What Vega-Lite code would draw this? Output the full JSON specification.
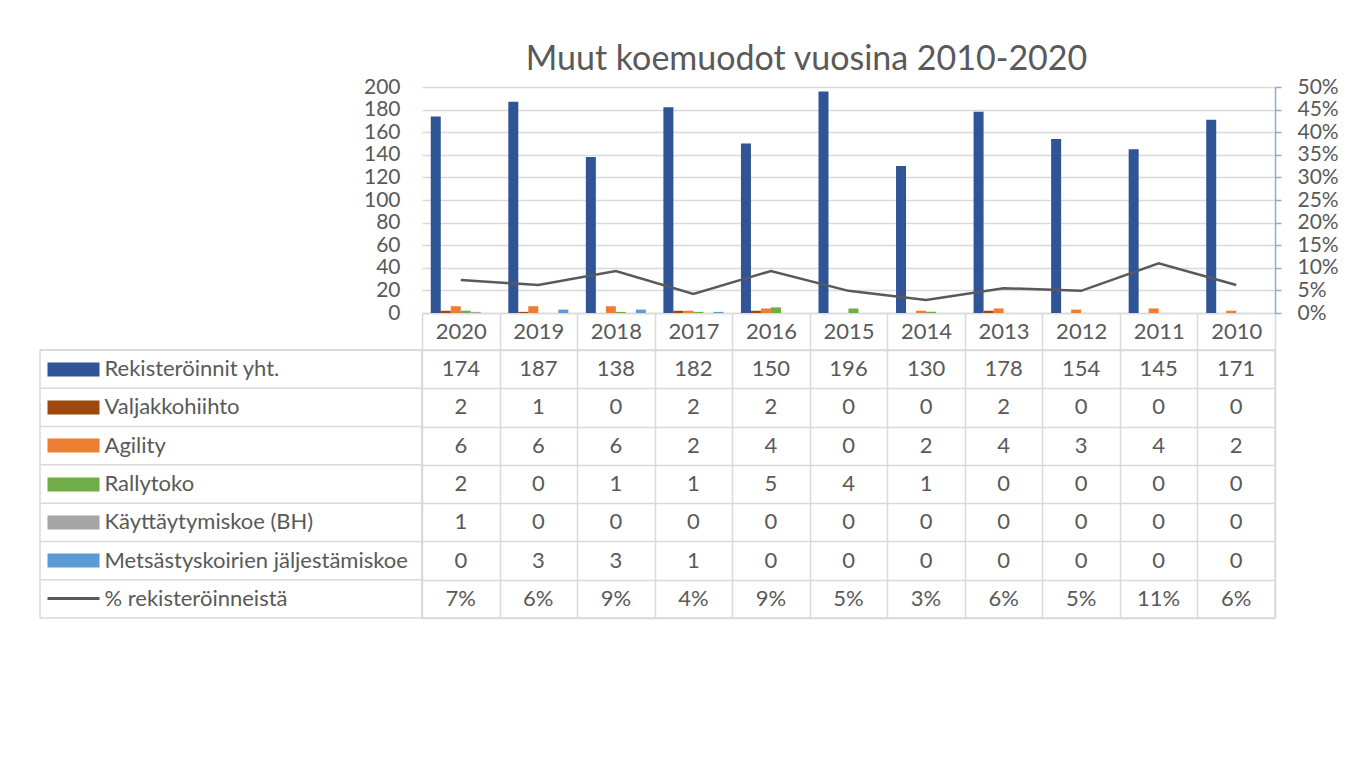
{
  "$schema": "https://vega.github.io/schema/vega-lite/v6.json",
  "background": "white",
  "padding": {"left": 38, "top": 43, "right": 5, "bottom": 5},
  "config": {
    "font": "Lato",
    "view": {"stroke": null},
    "axis": {"labelColor": "#595959", "labelFontSize": 21, "labelFont": "Lato", "title": null}
  },
  "datasets": {
    "main": [
      {"year": "2020", "series": "Rekisteröinnit yht.", "value": 174},
      {"year": "2019", "series": "Rekisteröinnit yht.", "value": 187},
      {"year": "2018", "series": "Rekisteröinnit yht.", "value": 138},
      {"year": "2017", "series": "Rekisteröinnit yht.", "value": 182},
      {"year": "2016", "series": "Rekisteröinnit yht.", "value": 150},
      {"year": "2015", "series": "Rekisteröinnit yht.", "value": 196},
      {"year": "2014", "series": "Rekisteröinnit yht.", "value": 130},
      {"year": "2013", "series": "Rekisteröinnit yht.", "value": 178},
      {"year": "2012", "series": "Rekisteröinnit yht.", "value": 154},
      {"year": "2011", "series": "Rekisteröinnit yht.", "value": 145},
      {"year": "2010", "series": "Rekisteröinnit yht.", "value": 171},
      {"year": "2020", "series": "Valjakkohiihto", "value": 2},
      {"year": "2019", "series": "Valjakkohiihto", "value": 1},
      {"year": "2018", "series": "Valjakkohiihto", "value": 0},
      {"year": "2017", "series": "Valjakkohiihto", "value": 2},
      {"year": "2016", "series": "Valjakkohiihto", "value": 2},
      {"year": "2015", "series": "Valjakkohiihto", "value": 0},
      {"year": "2014", "series": "Valjakkohiihto", "value": 0},
      {"year": "2013", "series": "Valjakkohiihto", "value": 2},
      {"year": "2012", "series": "Valjakkohiihto", "value": 0},
      {"year": "2011", "series": "Valjakkohiihto", "value": 0},
      {"year": "2010", "series": "Valjakkohiihto", "value": 0},
      {"year": "2020", "series": "Agility", "value": 6},
      {"year": "2019", "series": "Agility", "value": 6},
      {"year": "2018", "series": "Agility", "value": 6},
      {"year": "2017", "series": "Agility", "value": 2},
      {"year": "2016", "series": "Agility", "value": 4},
      {"year": "2015", "series": "Agility", "value": 0},
      {"year": "2014", "series": "Agility", "value": 2},
      {"year": "2013", "series": "Agility", "value": 4},
      {"year": "2012", "series": "Agility", "value": 3},
      {"year": "2011", "series": "Agility", "value": 4},
      {"year": "2010", "series": "Agility", "value": 2},
      {"year": "2020", "series": "Rallytoko", "value": 2},
      {"year": "2019", "series": "Rallytoko", "value": 0},
      {"year": "2018", "series": "Rallytoko", "value": 1},
      {"year": "2017", "series": "Rallytoko", "value": 1},
      {"year": "2016", "series": "Rallytoko", "value": 5},
      {"year": "2015", "series": "Rallytoko", "value": 4},
      {"year": "2014", "series": "Rallytoko", "value": 1},
      {"year": "2013", "series": "Rallytoko", "value": 0},
      {"year": "2012", "series": "Rallytoko", "value": 0},
      {"year": "2011", "series": "Rallytoko", "value": 0},
      {"year": "2010", "series": "Rallytoko", "value": 0},
      {"year": "2020", "series": "Käyttäytymiskoe (BH)", "value": 1},
      {"year": "2019", "series": "Käyttäytymiskoe (BH)", "value": 0},
      {"year": "2018", "series": "Käyttäytymiskoe (BH)", "value": 0},
      {"year": "2017", "series": "Käyttäytymiskoe (BH)", "value": 0},
      {"year": "2016", "series": "Käyttäytymiskoe (BH)", "value": 0},
      {"year": "2015", "series": "Käyttäytymiskoe (BH)", "value": 0},
      {"year": "2014", "series": "Käyttäytymiskoe (BH)", "value": 0},
      {"year": "2013", "series": "Käyttäytymiskoe (BH)", "value": 0},
      {"year": "2012", "series": "Käyttäytymiskoe (BH)", "value": 0},
      {"year": "2011", "series": "Käyttäytymiskoe (BH)", "value": 0},
      {"year": "2010", "series": "Käyttäytymiskoe (BH)", "value": 0},
      {"year": "2020", "series": "Metsästyskoirien jäljestämiskoe", "value": 0},
      {"year": "2019", "series": "Metsästyskoirien jäljestämiskoe", "value": 3},
      {"year": "2018", "series": "Metsästyskoirien jäljestämiskoe", "value": 3},
      {"year": "2017", "series": "Metsästyskoirien jäljestämiskoe", "value": 1},
      {"year": "2016", "series": "Metsästyskoirien jäljestämiskoe", "value": 0},
      {"year": "2015", "series": "Metsästyskoirien jäljestämiskoe", "value": 0},
      {"year": "2014", "series": "Metsästyskoirien jäljestämiskoe", "value": 0},
      {"year": "2013", "series": "Metsästyskoirien jäljestämiskoe", "value": 0},
      {"year": "2012", "series": "Metsästyskoirien jäljestämiskoe", "value": 0},
      {"year": "2011", "series": "Metsästyskoirien jäljestämiskoe", "value": 0},
      {"year": "2010", "series": "Metsästyskoirien jäljestämiskoe", "value": 0}
    ],
    "pct": [
      {"year": "2020", "series": "% rekisteröinneistä", "pct": 0.073, "label": "7%"},
      {"year": "2019", "series": "% rekisteröinneistä", "pct": 0.062, "label": "6%"},
      {"year": "2018", "series": "% rekisteröinneistä", "pct": 0.093, "label": "9%"},
      {"year": "2017", "series": "% rekisteröinneistä", "pct": 0.042, "label": "4%"},
      {"year": "2016", "series": "% rekisteröinneistä", "pct": 0.093, "label": "9%"},
      {"year": "2015", "series": "% rekisteröinneistä", "pct": 0.049, "label": "5%"},
      {"year": "2014", "series": "% rekisteröinneistä", "pct": 0.029, "label": "3%"},
      {"year": "2013", "series": "% rekisteröinneistä", "pct": 0.055, "label": "6%"},
      {"year": "2012", "series": "% rekisteröinneistä", "pct": 0.049, "label": "5%"},
      {"year": "2011", "series": "% rekisteröinneistä", "pct": 0.11, "label": "11%"},
      {"year": "2010", "series": "% rekisteröinneistä", "pct": 0.062, "label": "6%"}
    ],
    "rows": [
      {"series": "Rekisteröinnit yht."},
      {"series": "Valjakkohiihto"},
      {"series": "Agility"},
      {"series": "Rallytoko"},
      {"series": "Käyttäytymiskoe (BH)"},
      {"series": "Metsästyskoirien jäljestämiskoe"},
      {"series": "% rekisteröinneistä"}
    ]
  },
  "columns": 2,
  "bounds": "flush",
  "spacing": {"row": 37, "column": 0},
  "concat": [
    {
      "width": 382,
      "height": 226,
      "data": {"values": [{}]},
      "mark": {"type": "point", "opacity": 0},
      "encoding": {}
    },
    {
      "width": 853,
      "height": 226,
      "title": {"text": "Muut koemuodot vuosina 2010-2020", "fontSize": 34, "color": "#595959", "fontWeight": "normal", "anchor": "middle", "dx": -42, "offset": -1},
      "encoding": {
        "x": {
          "field": "year", "type": "nominal",
          "sort": ["2020","2019","2018","2017","2016","2015","2014","2013","2012","2011","2010"],
          "scale": {"type": "band", "paddingInner": 0, "paddingOuter": 0},
          "axis": {"orient": "bottom", "domainColor": "#d9d9d9", "domainWidth": 1.5, "tickBand": "extent", "tickSize": 37, "tickColor": "#d9d9d9", "tickWidth": 1.5, "labelPadding": -18.5, "labelBaseline": "middle", "labelAngle": 0, "labelFontSize": 22}
        }
      },
      "layer": [
        {
          "data": {"name": "main"},
          "mark": {"type": "bar"},
          "encoding": {
            "xOffset": {"field": "series", "type": "nominal",
              "sort": ["Rekisteröinnit yht.","Valjakkohiihto","Agility","Rallytoko","Käyttäytymiskoe (BH)","Metsästyskoirien jäljestämiskoe"],
              "scale": {"paddingInner": 0, "paddingOuter": 0.875}},
            "y": {"field": "value", "type": "quantitative",
              "scale": {"domain": [0, 200], "nice": false},
              "axis": {"orient": "left", "values": [0,20,40,60,80,100,120,140,160,180,200], "domain": false, "ticks": false, "labelPadding": 22, "grid": true, "gridColor": "#d9d9d9", "gridWidth": 1.5}},
            "color": {"field": "series", "type": "nominal",
              "scale": {"domain": ["Rekisteröinnit yht.","Valjakkohiihto","Agility","Rallytoko","Käyttäytymiskoe (BH)","Metsästyskoirien jäljestämiskoe"],
                "range": ["#2f5597","#9e480e","#ed7d31","#70ad47","#a5a5a5","#5b9bd5"]},
              "legend": null}
          }
        },
        {
          "data": {"name": "pct"},
          "mark": {"type": "line", "color": "#595959", "strokeWidth": 2.5},
          "encoding": {
            "y": {"field": "pct", "type": "quantitative",
              "scale": {"domain": [0, 0.5], "nice": false},
              "axis": {"orient": "right", "values": [0,0.05,0.1,0.15,0.2,0.25,0.3,0.35,0.4,0.45,0.5], "format": ".0%", "grid": false, "domainColor": "#8eaadb", "domainWidth": 1.5, "tickColor": "#8eaadb", "tickWidth": 1.5, "tickSize": 6, "labelPadding": 16, "labelAlign": "left"}}
          }
        }
      ],
      "resolve": {"scale": {"y": "independent"}}
    },
    {
      "width": 382,
      "height": 268,
      "view": {"stroke": "#d9d9d9", "strokeWidth": 1.5},
      "data": {"name": "rows"},
      "mark": {"type": "rule", "color": "#d9d9d9", "strokeWidth": 1.5},
      "encoding": {
        "y": {"field": "series", "type": "nominal", "bandPosition": 0,
          "sort": ["Rekisteröinnit yht.","Valjakkohiihto","Agility","Rallytoko","Käyttäytymiskoe (BH)","Metsästyskoirien jäljestämiskoe","% rekisteröinneistä"],
          "scale": {"type": "band", "paddingInner": 0, "paddingOuter": 0},
          "axis": {"orient": "left", "offset": -59, "domain": false, "grid": false, "ticks": true, "tickSize": 52, "labelAlign": "left", "labelPadding": -57, "labelBaseline": "middle", "labelLimit": 0, "labelFontSize": 22,
            "tickColor": {"condition": [
              {"test": "datum.value === 'Rekisteröinnit yht.'", "value": "#2f5597"},
              {"test": "datum.value === 'Valjakkohiihto'", "value": "#9e480e"},
              {"test": "datum.value === 'Agility'", "value": "#ed7d31"},
              {"test": "datum.value === 'Rallytoko'", "value": "#70ad47"},
              {"test": "datum.value === 'Käyttäytymiskoe (BH)'", "value": "#a5a5a5"},
              {"test": "datum.value === 'Metsästyskoirien jäljestämiskoe'", "value": "#5b9bd5"}
            ], "value": "#595959"},
            "tickWidth": {"condition": {"test": "datum.value === '% rekisteröinneistä'", "value": 3}, "value": 14}
          }
        }
      }
    },
    {
      "width": 853,
      "height": 268,
      "view": {"stroke": "#d9d9d9", "strokeWidth": 1.5},
      "encoding": {
        "x": {"field": "year", "type": "nominal",
          "sort": ["2020","2019","2018","2017","2016","2015","2014","2013","2012","2011","2010"],
          "scale": {"type": "band", "paddingInner": 0, "paddingOuter": 0},
          "axis": {"orient": "top", "labels": false, "ticks": false, "domain": false, "grid": true, "tickBand": "extent", "gridColor": "#d9d9d9", "gridWidth": 1.5}},
        "y": {"field": "series", "type": "nominal",
          "sort": ["Rekisteröinnit yht.","Valjakkohiihto","Agility","Rallytoko","Käyttäytymiskoe (BH)","Metsästyskoirien jäljestämiskoe","% rekisteröinneistä"],
          "scale": {"type": "band", "paddingInner": 0, "paddingOuter": 0, "domain": ["Rekisteröinnit yht.","Valjakkohiihto","Agility","Rallytoko","Käyttäytymiskoe (BH)","Metsästyskoirien jäljestämiskoe","% rekisteröinneistä"]},
          "axis": {"orient": "left", "labels": false, "ticks": false, "domain": false, "grid": true, "tickBand": "extent", "gridColor": "#d9d9d9", "gridWidth": 1.5}}
      },
      "layer": [
        {
          "data": {"name": "main"},
          "mark": {"type": "text", "fontSize": 22, "color": "#595959", "baseline": "middle", "align": "center"},
          "encoding": {"text": {"field": "value", "type": "quantitative"}}
        },
        {
          "data": {"name": "pct"},
          "mark": {"type": "text", "fontSize": 22, "color": "#595959", "baseline": "middle", "align": "center"},
          "encoding": {"text": {"field": "label", "type": "nominal"}}
        }
      ]
    }
  ]
}
